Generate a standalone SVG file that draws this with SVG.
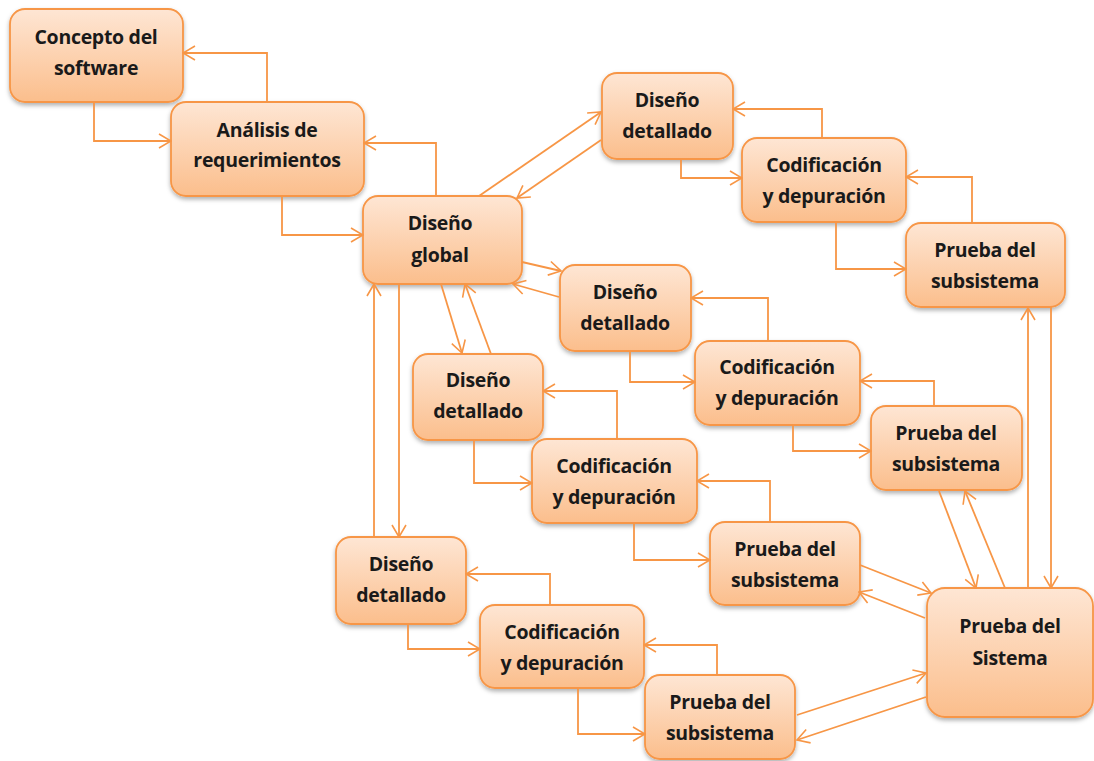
<svg xmlns="http://www.w3.org/2000/svg" width="1094" height="761" viewBox="0 0 1094 761">
<defs>
<linearGradient id="g" x1="0" y1="0" x2="0" y2="1">
<stop offset="0" stop-color="#FEE6D4"/>
<stop offset="1" stop-color="#FBBE8C"/>
</linearGradient>
<filter id="sh" x="-10%" y="-10%" width="120%" height="130%">
<feDropShadow dx="0" dy="2.5" stdDeviation="2" flood-color="#000" flood-opacity="0.3"/>
</filter>
<marker id="a" markerUnits="userSpaceOnUse" markerWidth="14" markerHeight="16" viewBox="0 0 14 16" refX="13" refY="8" orient="auto">
<path d="M1,1 L13,8 L1,15" fill="none" stroke="#F79646" stroke-width="1.6"/>
</marker>
</defs>
<style>
.n rect{fill:url(#g);stroke:#F79646;stroke-width:1.8;filter:url(#sh)}
.n text{font-family:"Open Sans","Liberation Sans",sans-serif;font-weight:bold;font-size:19.5px;letter-spacing:-0.3px;fill:#1a1a1a;text-anchor:middle}
.c path{fill:none;stroke:#F79646;stroke-width:1.8;marker-end:url(#a)}
</style>
<rect width="1094" height="761" fill="#fff"/>
<g id="concepto" class="n"><rect x="10" y="9" width="173" height="93" rx="15"/><text x="96" y="44">Concepto del</text><text x="96" y="75">software</text></g>
<g id="analisis" class="n"><rect x="171" y="102" width="193" height="94" rx="15"/><text x="267" y="137">Análisis de</text><text x="267" y="167">requerimientos</text></g>
<g id="global" class="n"><rect x="363" y="196" width="159" height="88" rx="15"/><text x="440" y="230">Diseño</text><text x="440" y="262">global</text></g>
<g id="dd1" class="n"><rect x="602" y="73" width="131" height="86" rx="15"/><text x="667" y="107">Diseño</text><text x="667" y="138">detallado</text></g>
<g id="cod1" class="n"><rect x="742" y="138" width="164" height="84" rx="15"/><text x="824" y="172">Codificación</text><text x="824" y="203">y depuración</text></g>
<g id="p1" class="n"><rect x="906" y="223" width="159" height="84" rx="15"/><text x="985" y="257">Prueba del</text><text x="985" y="288">subsistema</text></g>
<g id="dd2" class="n"><rect x="560" y="265" width="131" height="86" rx="15"/><text x="625" y="299">Diseño</text><text x="625" y="330">detallado</text></g>
<g id="cod2" class="n"><rect x="695" y="341" width="165" height="84" rx="15"/><text x="777" y="374">Codificación</text><text x="777" y="405">y depuración</text></g>
<g id="p2" class="n"><rect x="871" y="406" width="151" height="84" rx="15"/><text x="946" y="440">Prueba del</text><text x="946" y="471">subsistema</text></g>
<g id="dd3" class="n"><rect x="413" y="354" width="130" height="86" rx="15"/><text x="478" y="387">Diseño</text><text x="478" y="418">detallado</text></g>
<g id="cod3" class="n"><rect x="532" y="439" width="165" height="84" rx="15"/><text x="614" y="473">Codificación</text><text x="614" y="504">y depuración</text></g>
<g id="p3" class="n"><rect x="710" y="522" width="150" height="83" rx="15"/><text x="785" y="556">Prueba del</text><text x="785" y="587">subsistema</text></g>
<g id="dd4" class="n"><rect x="336" y="537" width="130" height="87" rx="15"/><text x="401" y="571">Diseño</text><text x="401" y="602">detallado</text></g>
<g id="cod4" class="n"><rect x="480" y="605" width="164" height="83" rx="15"/><text x="562" y="639">Codificación</text><text x="562" y="670">y depuración</text></g>
<g id="p4" class="n"><rect x="645" y="675" width="150" height="84" rx="15"/><text x="720" y="709">Prueba del</text><text x="720" y="740">subsistema</text></g>
<g id="sistema" class="n"><rect x="927" y="588" width="166" height="129" rx="18"/><text x="1010" y="633">Prueba del</text><text x="1010" y="665">Sistema</text></g>
<g id="connectors" class="c">
<path d="M94,102 V141 H171"/>
<path d="M267,102 V53 H183"/>
<path d="M282,196 V235 H363"/>
<path d="M436,196 V143 H364"/>
<path d="M479,196 L601,112"/>
<path d="M601,140 L517,198"/>
<path d="M681,159 V178 H742"/>
<path d="M822,138 V109 H733"/>
<path d="M836,222 V269 H906"/>
<path d="M972,223 V177 H906"/>
<path d="M1028,588 V308"/>
<path d="M1051,307 V588"/>
<path d="M522,262 L561,271"/>
<path d="M559,297 L513,284"/>
<path d="M630,351 V382 H695"/>
<path d="M768,341 V298 H691"/>
<path d="M793,425 V451 H871"/>
<path d="M934,406 V381 H860"/>
<path d="M939,491 L976,588"/>
<path d="M1005,588 L965,491"/>
<path d="M441,284 L462,353"/>
<path d="M491,354 L465,284"/>
<path d="M474,440 V483 H532"/>
<path d="M617,439 V391 H543"/>
<path d="M634,523 V560 H710"/>
<path d="M770,522 V481 H697"/>
<path d="M860,565 L931,593"/>
<path d="M925,618 L859,592"/>
<path d="M399,284 V537"/>
<path d="M374,537 V284"/>
<path d="M408,624 V649 H480"/>
<path d="M550,605 V574 H466"/>
<path d="M578,688 V734 H645"/>
<path d="M717,675 V645 H644"/>
<path d="M797,715 L926,673"/>
<path d="M926,697 L797,740"/>
</g>
</svg>
